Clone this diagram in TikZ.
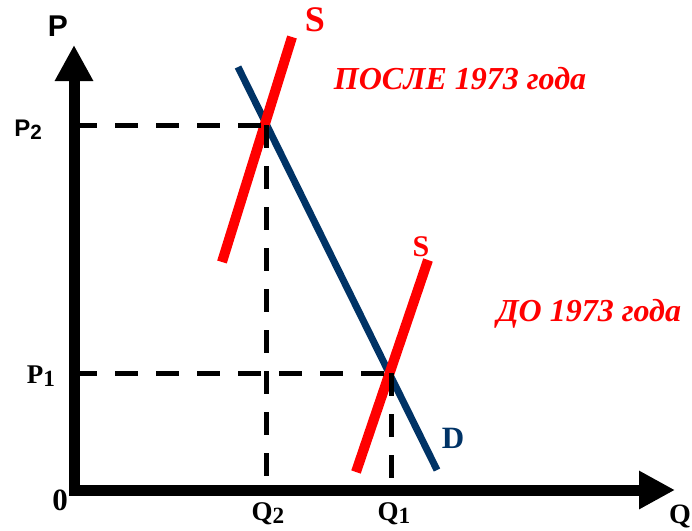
\documentclass[tikz,border=0pt]{standalone}
\usepackage{fontspec}
\setmainfont{Liberation Serif}
\setsansfont{Liberation Sans}
\usetikzlibrary{arrows.meta, positioning}
\definecolor{SupRed}  {HTML}{FF0000}
\definecolor{DemBlue} {HTML}{003366}
\newcommand\lowidx[1]{\raisebox{-0.2ex}{\scalebox{0.86}{#1}}}
\tikzset{
  % axes and curves
  axis/.style={line width=11pt, -{Triangle[length=36pt, width=36pt]}},
  demline/.style={draw=DemBlue, line width=7pt},
  supline/.style={draw=SupRed, line width=10pt},
  dashln/.style={line width=5pt, dash pattern=on 23pt off 18pt},
  lbl/.style={font=\bfseries, inner sep=0pt},
  era/.style={font=\fontsize{32}{36}\selectfont\bfseries\itshape, text=SupRed, inner sep=0pt},
}
\begin{document}
\begin{tikzpicture}[x=1pt, y=-1pt]
\useasboundingbox (0,0) rectangle (692,530);
\coordinate (O)  at (74,490);
\coordinate (E2) at (266,125);
\coordinate (E1) at (391,373);
% axes
\draw[axis] (74,490) -- (74,45);
\draw[axis] (69,490) -- (675,490);
% demand
\draw[demline] (238,67) coordinate (D1) -- (437,470) coordinate (D2);
% supply after and before
\draw[supline] (222,262) coordinate (Sa1) -- (292,37) coordinate (Sa2);
\draw[supline] (356,472) coordinate (Sb1) -- (428,260) coordinate (Sb2);
% guides
\draw[dashln] (O |- E2) -- (E2);
\draw[dashln] (E2) -- (E2 |- O);
\draw[dashln] (O |- E1) -- (E1);
\draw[dashln] (E1) -- (E1 |- O);
% labels
\node[lbl, font=\sffamily\bfseries\fontsize{30}{32}\selectfont] (p)  at (58,26)  {P};
\node[lbl, font=\sffamily\bfseries\fontsize{24}{26}\selectfont] (p2) at (28,130) {P\lowidx{2}};
\node[lbl, font=\bfseries\fontsize{27}{30}\selectfont] (p1) at (41,376) {P\lowidx{1}};
\node[lbl, font=\bfseries\fontsize{31}{34}\selectfont] (o)  at (60,500) {0};
\node[lbl, font=\bfseries\fontsize{27}{30}\selectfont] (q2) at (268,514) {Q\lowidx{2}};
\node[lbl, font=\bfseries\fontsize{27}{30}\selectfont] (q1) at (394,514) {Q\lowidx{1}};
\node[lbl, font=\bfseries\fontsize{28}{30}\selectfont, anchor=east] (q) at (691,516) {Q};
\node[lbl, font=\bfseries\fontsize{36}{40}\selectfont, text=SupRed] (sa) at (315,20) {S};
\node[lbl, font=\bfseries\fontsize{30}{34}\selectfont, text=SupRed] (sb) at (421,247) {S};
\node[lbl, font=\bfseries\fontsize{31}{34}\selectfont, text=DemBlue] (d) at (453,438) {D};
\node[era] (after)  at (460,79)  {ПОСЛЕ 1973 года};
\node[era] (before) at (589,314) {ДО 1973 года};
\end{tikzpicture}
\end{document}
